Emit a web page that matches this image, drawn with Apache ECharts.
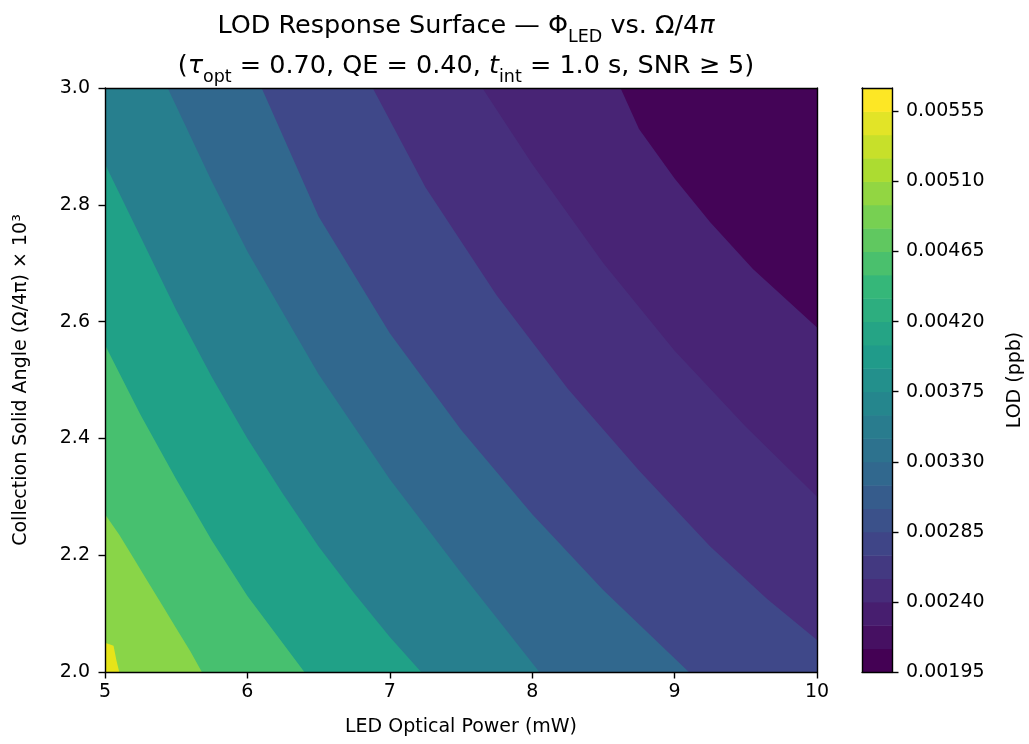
<!DOCTYPE html>
<html>
<head>
<meta charset="utf-8">
<script src="https://cdn.jsdelivr.net/npm/echarts@6/dist/echarts.min.js"></script>
<style>
html, body { margin: 0; padding: 0; background: #fff; }
#chart { width: 1029px; height: 744px; }
</style>
</head>
<body>
<div id="chart"></div>
<script>
// axis ticks
var powerTicks = [5, 6, 7, 8, 9, 10];
var angleTicks = [2.0, 2.2, 2.4, 2.6, 2.8, 3.0];
var cbarTicks = [0.00195, 0.0024, 0.00285, 0.0033, 0.00375, 0.0042, 0.00465, 0.0051, 0.00555];
// colour bar levels (LOD, ppb)
var cbarLevels = [0.00195, 0.0021, 0.00225, 0.0024, 0.00255, 0.0027, 0.00285, 0.003, 0.00315,
    0.0033, 0.00345, 0.0036, 0.00375, 0.0039, 0.00405, 0.0042, 0.00435, 0.0045, 0.00465,
    0.0048, 0.00495, 0.0051, 0.00525, 0.0054, 0.00555, 0.0057];

// band edges: [LED power (mW), solid angle x1e3], upper-left end first
var edge1 = [[8.62, 3.0], [8.75, 2.93], [9.0, 2.845], [9.25, 2.77], [9.55, 2.69], [10.0, 2.59]];
var edge2 = [[7.65, 3.0], [8.0, 2.87], [8.5, 2.7], [9.0, 2.55], [9.5, 2.42], [10.0, 2.3]];
var edge3 = [[6.88, 3.0], [7.25, 2.83], [7.75, 2.645], [8.25, 2.485], [8.75, 2.345], [9.25, 2.215], [9.65, 2.125], [10.0, 2.055]];
var edge4 = [[6.1, 3.0], [6.5, 2.78], [7.0, 2.58], [7.5, 2.415], [8.0, 2.27], [8.5, 2.14], [9.1, 2.0]];
var edge5 = [[5.44, 3.0], [5.75, 2.84], [6.0, 2.72], [6.5, 2.51], [7.0, 2.33], [7.5, 2.17], [8.05, 2.0]];
var edge6 = [[5.0, 2.87], [5.25, 2.745], [5.5, 2.62], [5.75, 2.505], [6.0, 2.4], [6.25, 2.305], [6.5, 2.215], [6.75, 2.135], [7.0, 2.06], [7.22, 2.0]];
var edge7 = [[5.0, 2.56], [5.25, 2.44], [5.5, 2.33], [5.75, 2.225], [6.0, 2.13], [6.2, 2.065], [6.4, 2.0]];
var edge8 = [[5.0, 2.27], [5.1, 2.235], [5.2, 2.195], [5.3, 2.155], [5.4, 2.115], [5.5, 2.075], [5.6, 2.035], [5.68, 2.0]];
var edge9 = [[5.0, 2.05], [5.06, 2.045], [5.08, 2.02], [5.1, 2.0]];
var bandEdges = [edge1, edge2, edge3, edge4, edge5, edge6, edge7, edge8, edge9];
// fill of each visible band, lowest LOD (top right) first
var bandColors = ['#440457', '#482475', '#472f7d', '#3f4889', '#31688e', '#277f8e', '#20a187', '#47c06f', '#89d548', '#e6e419'];

var FONT = 'DejaVu Sans';
var xMin = powerTicks[0], xMax = powerTicks[powerTicks.length - 1];
var yMin = angleTicks[0], yMax = angleTicks[angleTicks.length - 1];

var viridisStops = ['#440154', '#482878', '#3e4989', '#31688e', '#26828e', '#1f9e89', '#35b779', '#6ece58', '#b5de2b', '#fde725'];
function viridis(t) {
    var n = viridisStops.length - 1;
    var p = Math.min(Math.max(t, 0), 1) * n;
    var i = Math.min(Math.floor(p), n - 1);
    var f = p - i;
    var a = echarts.color.parse(viridisStops[i]);
    var b = echarts.color.parse(viridisStops[i + 1]);
    var c = [0, 1, 2].map(function (k) { return Math.round(a[k] + (b[k] - a[k]) * f); });
    return 'rgb(' + c.join(',') + ')';
}

function renderBand(params, api) {
    var i = params.dataIndex;
    var pts;
    if (i === 0) {
        pts = [[xMin, yMin], [xMin, yMax], [xMax, yMax], [xMax, yMin]];
    } else {
        var e = bandEdges[i - 1];
        var first = e[0], last = e[e.length - 1];
        pts = e.slice();
        if (last[0] >= xMax && last[1] > yMin) pts.push([xMax, yMin]);
        pts.push([xMin, yMin]);
        if (first[1] >= yMax && first[0] > xMin) pts.push([xMin, yMax]);
    }
    return {
        type: 'polygon',
        shape: { points: pts.map(function (p) { return api.coord(p); }) },
        style: { fill: bandColors[i], stroke: null }
    };
}

function renderCbar(params, api) {
    var lo = api.coord([0, api.value(0)]);
    var hi = api.coord([1, api.value(1)]);
    var n = cbarLevels.length - 2;
    return {
        type: 'rect',
        shape: { x: lo[0], y: hi[1], width: hi[0] - lo[0], height: lo[1] - hi[1] + 0.5 },
        style: { fill: viridis(params.dataIndex / n) }
    };
}

var cbarData = cbarLevels.slice(0, -1).map(function (v, i) { return [v, cbarLevels[i + 1]]; });

var lineStyle = { color: '#000', width: 1.4 };
var tickStyle = { show: true, length: 6.5, lineStyle: { color: '#000', width: 1.4 } };
var labelStyle = { color: '#000', fontFamily: FONT, fontSize: 19 };

var myChart = echarts.init(document.getElementById('chart'), null, { renderer: 'canvas' });
var option = {
    backgroundColor: '#fff',
    animation: false,
    title: {
        left: 461,
        top: 1,
        textAlign: 'center',
        text: '{n|LOD Response Surface — Φ}{s|LED}{n| vs. Ω/4}{i|π}\n' +
            '{n|(}{i|τ}{s|opt}{n| = 0.70, QE = 0.40, }{i|t}{s|int}{n| = 1.0 s, SNR ≥ 5)}',
        textStyle: {
            color: '#000',
            fontFamily: FONT,
            fontWeight: 'normal',
            fontSize: 25.5,
            lineHeight: 40,
            rich: {
                n: { fontFamily: FONT, fontWeight: 'normal', fontSize: 25.5, lineHeight: 40, color: '#000' },
                i: { fontFamily: FONT, fontWeight: 'normal', fontSize: 25.5, lineHeight: 40, color: '#000', fontStyle: 'italic' },
                s: { fontFamily: FONT, fontWeight: 'normal', fontSize: 17.5, lineHeight: 26, color: '#000', verticalAlign: 'bottom' }
            }
        }
    },
    grid: [
        { left: 105, top: 88, width: 712, height: 584 },
        { left: 862, top: 88, width: 30, height: 584 }
    ],
    xAxis: [
        {
            type: 'value', gridIndex: 0, min: xMin, max: xMax, interval: powerTicks[1] - powerTicks[0],
            z: 5,
            name: 'LED Optical Power (mW)', nameLocation: 'middle', nameGap: 46,
            nameTextStyle: { color: '#000', fontFamily: FONT, fontSize: 19 },
            axisLine: { show: true, lineStyle: lineStyle },
            axisTick: tickStyle,
            axisLabel: Object.assign({ margin: 11 }, labelStyle),
            splitLine: { show: false }
        },
        {
            type: 'value', gridIndex: 0, position: 'top', min: xMin, max: xMax, z: 5,
            axisLine: { show: true, onZero: false, lineStyle: lineStyle },
            axisTick: { show: false }, axisLabel: { show: false }, splitLine: { show: false }
        },
        {
            type: 'value', gridIndex: 1, min: 0, max: 1, z: 5,
            axisLine: { show: true, onZero: false, lineStyle: lineStyle },
            axisTick: { show: false }, axisLabel: { show: false }, splitLine: { show: false }
        },
        {
            type: 'value', gridIndex: 1, position: 'top', min: 0, max: 1, z: 5,
            axisLine: { show: true, onZero: false, lineStyle: lineStyle },
            axisTick: { show: false }, axisLabel: { show: false }, splitLine: { show: false }
        }
    ],
    yAxis: [
        {
            type: 'value', gridIndex: 0, min: yMin, max: yMax, interval: 0.2, z: 5,
            name: 'Collection Solid Angle (Ω/4π) × 10³', nameLocation: 'middle', nameGap: 74,
            nameTextStyle: { color: '#000', fontFamily: FONT, fontSize: 19 },
            axisLine: { show: true, onZero: false, lineStyle: lineStyle },
            axisTick: tickStyle,
            axisLabel: Object.assign({ margin: 15, formatter: function (v) { return v.toFixed(1); } }, labelStyle),
            splitLine: { show: false }
        },
        {
            type: 'value', gridIndex: 0, position: 'right', min: yMin, max: yMax, z: 5,
            axisLine: { show: true, onZero: false, lineStyle: lineStyle },
            axisTick: { show: false }, axisLabel: { show: false }, splitLine: { show: false }
        },
        {
            type: 'value', gridIndex: 1, position: 'right',
            min: cbarLevels[0], max: cbarLevels[cbarLevels.length - 1],
            interval: cbarTicks[1] - cbarTicks[0], z: 5,
            name: 'LOD (ppb)', nameLocation: 'middle', nameGap: 114, nameRotate: 90,
            nameTextStyle: { color: '#000', fontFamily: FONT, fontSize: 19 },
            axisLine: { show: true, onZero: false, lineStyle: lineStyle },
            axisTick: tickStyle,
            axisLabel: Object.assign({
                margin: 14, showMaxLabel: false,
                formatter: function (v) { return v.toFixed(5); }
            }, labelStyle),
            splitLine: { show: false }
        },
        {
            type: 'value', gridIndex: 1, position: 'left', min: 0, max: 1, z: 5,
            axisLine: { show: true, onZero: false, lineStyle: lineStyle },
            axisTick: { show: false }, axisLabel: { show: false }, splitLine: { show: false }
        }
    ],
    series: [
        {
            name: 'LOD',
            type: 'custom',
            xAxisIndex: 0,
            yAxisIndex: 0,
            z: 1,
            clip: true,
            renderItem: renderBand,
            data: bandColors.map(function () { return [xMin, yMin]; })
        },
        {
            name: 'colorbar',
            type: 'custom',
            xAxisIndex: 2,
            yAxisIndex: 2,
            z: 1,
            renderItem: renderCbar,
            encode: { y: [0, 1] },
            data: cbarData
        }
    ]
};
myChart.setOption(option);
</script>
</body>
</html>
